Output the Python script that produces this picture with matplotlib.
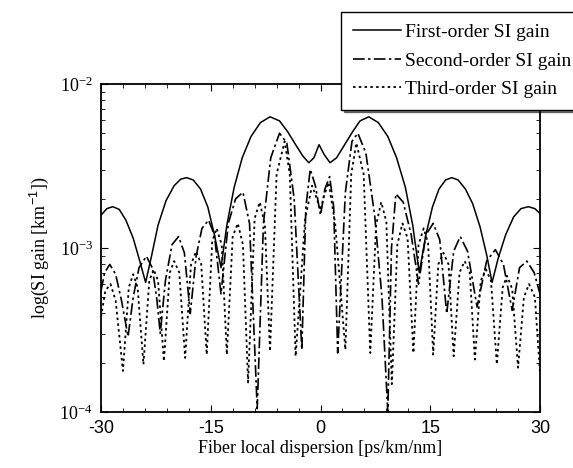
import numpy as np
import matplotlib.pyplot as plt

# values, y as log10 of SI gain [1/km]
first_x = [-30.0, -29.2, -28.4, -27.5, -26.6, -25.6, -24.7, -23.9, -23.1, -22.2,
           -21.1, -20.0, -19.1, -18.3, -17.4, -16.4, -15.4, -14.5, -13.6, -12.8,
           -11.8, -10.7, -9.5, -8.2, -6.9, -5.6, -4.5, -3.4, -2.4, -1.6,
           -0.9, -0.2, 0.5, 1.3, 2.2, 3.3, 4.4, 5.4, 6.6, 7.9,
           9.2, 10.4, 11.6, 12.6, 13.5, 14.4, 15.3, 16.2, 17.1, 17.95,
           18.8, 19.8, 20.8, 21.8, 22.7, 23.45, 24.3, 25.3, 26.4, 27.4,
           28.4, 29.3, 30.0]
first_log = [-2.80, -2.76, -2.748, -2.765, -2.83, -2.94, -3.08, -3.21, -3.05, -2.86,
             -2.71, -2.62, -2.58, -2.571, -2.585, -2.64, -2.75, -2.92, -3.12, -2.86,
             -2.63, -2.45, -2.32, -2.235, -2.20, -2.225, -2.29, -2.37, -2.44, -2.48,
             -2.45, -2.37, -2.43, -2.48, -2.45, -2.37, -2.29, -2.225, -2.20, -2.235,
             -2.32, -2.45, -2.63, -2.86, -3.15, -2.92, -2.75, -2.64, -2.585, -2.571,
             -2.585, -2.64, -2.73, -2.87, -3.04, -3.21, -3.06, -2.92, -2.81, -2.76,
             -2.748, -2.76, -2.79]

second_x = [-30.0, -29.5, -28.8, -28.0, -27.2, -26.3, -25.6, -24.8, -23.8, -23.0,
            -22.4, -21.9, -21.2, -20.3, -19.4, -18.6, -17.8, -17.0, -16.2, -15.3,
            -14.5, -13.6, -12.6, -11.6, -10.6, -9.7, -8.65, -7.8, -6.8, -5.6,
            -4.6, -3.6, -2.55, -2.0, -1.4, -0.7, 0.0, 0.6, 1.25, 1.8,
            2.35, 3.4, 4.3, 5.1, 6.2, 7.4, 8.4, 9.2, 9.7, 10.3,
            11.3, 12.4, 13.4, 14.4, 15.4, 16.3, 17.25, 18.2, 19.1, 20.1,
            21.4, 22.7, 23.9, 25.0, 26.2, 27.2, 28.2, 29.2, 30.0]
second_log = [-3.26, -3.15, -3.10, -3.16, -3.32, -3.54, -3.30, -3.12, -3.05, -3.12,
              -3.30, -3.52, -3.20, -2.98, -2.93, -3.03, -3.40, -3.05, -2.88, -2.83,
              -2.92, -3.28, -2.85, -2.70, -2.66, -2.85, -3.98, -2.85, -2.45, -2.30,
              -2.36, -2.70, -3.62, -2.75, -2.52, -2.62, -2.80, -2.64, -2.565, -2.75,
              -3.64, -2.66, -2.35, -2.30, -2.42, -2.80, -3.30, -4.00, -3.00, -2.67,
              -2.72, -2.92, -3.22, -2.92, -2.85, -2.95, -3.40, -3.02, -2.93, -3.02,
              -3.36, -3.08, -3.01, -3.10, -3.38, -3.12, -3.08, -3.15, -3.28]

third_x = [-30.0, -29.4, -28.7, -28.0, -27.0, -26.2, -25.6, -25.0, -24.2, -23.4,
           -22.8, -22.2, -21.4, -20.6, -20.0, -19.3, -18.5, -17.7, -17.0, -16.3,
           -15.55, -14.8, -14.2, -13.5, -12.8, -12.0, -11.3, -10.6, -9.9, -9.0,
           -8.3, -7.6, -6.9, -6.0, -4.9, -4.2, -3.4, -2.1, -1.15, -0.5,
           0.0, 0.5, 1.1, 2.0, 3.4, 4.2, 4.9, 5.9, 6.8, 7.6,
           8.3, 9.0, 9.75, 10.5, 11.2, 11.9, 12.7, 13.4, 14.1, 14.7,
           15.4, 16.1, 16.8, 17.5, 18.2, 19.0, 19.7, 20.4, 21.1, 21.9,
           22.6, 23.3, 24.1, 24.9, 25.5, 26.2, 27.0, 27.8, 28.5, 29.3,
           30.0]
third_log = [-3.42, -3.26, -3.22, -3.32, -3.75, -3.24, -3.16, -3.24, -3.71, -3.20,
             -3.13, -3.20, -3.69, -3.15, -3.08, -3.15, -3.67, -3.10, -3.02, -3.10,
             -3.65, -2.96, -2.88, -2.98, -3.65, -2.93, -2.85, -2.98, -3.82, -2.82,
             -2.72, -2.86, -3.63, -2.55, -2.35, -2.55, -3.66, -2.82, -2.62, -2.70,
             -2.77, -2.68, -2.60, -2.85, -3.62, -2.55, -2.36, -2.55, -3.64, -2.86,
             -2.72, -2.84, -3.83, -2.98, -2.85, -2.94, -3.64, -2.98, -2.88, -2.97,
             -3.65, -3.10, -3.03, -3.10, -3.66, -3.15, -3.08, -3.15, -3.68, -3.20,
             -3.13, -3.20, -3.71, -3.24, -3.17, -3.25, -3.73, -3.30, -3.22, -3.30,
             -3.76]

x_ticks = [-30, -15, 0, 15, 30]

plt.rcParams['font.family'] = 'Liberation Serif'
plt.rcParams['axes.unicode_minus'] = False
plt.rcParams['mathtext.fontset'] = 'custom'
plt.rcParams['mathtext.rm'] = 'Liberation Sans'
plt.rcParams['mathtext.it'] = 'Liberation Sans:italic'

fig = plt.figure(figsize=(5.73, 4.68), dpi=100)
ax = fig.add_axes([101 / 573, 56 / 468, 439 / 573, 328 / 468])

ax.semilogy(first_x, 10.0 ** np.array(first_log), color='k', lw=1.1,
            label='First-order SI gain')
ax.semilogy(second_x, 10.0 ** np.array(second_log), color='k', lw=1.2,
            dashes=(7, 2, 1.5, 2), label='Second-order SI gain')
ax.semilogy(third_x, 10.0 ** np.array(third_log), color='k', lw=1.3,
            dashes=(1.4, 1.8), label='Third-order SI gain')

ax.set_xlim(-30, 30)
ax.set_ylim(1e-4, 1e-2)
ax.set_xticks(x_ticks)
ax.set_xticks(np.arange(-30, 31, 3), minor=True)
ax.tick_params(which='both', direction='in', top=True, right=True,
               labelsize=13, pad=6)
ax.tick_params(which='major', length=5)
ax.tick_params(which='minor', length=3)
for lbl in ax.get_xticklabels():
    lbl.set_family('Liberation Sans')
for s in ax.spines.values():
    s.set_linewidth(1.3)

ax.set_xlabel('Fiber local dispersion [ps/km/nm]', fontsize=13, labelpad=2)
ax.set_ylabel('log(SI gain [km$^{-1}$])', fontsize=13, labelpad=6)

leg = ax.legend(loc='upper left', bbox_to_anchor=(341 / 573, 1 - 12 / 468),
                bbox_transform=fig.transFigure, fontsize=14, fancybox=False,
                edgecolor='k', framealpha=1, borderaxespad=0, handlelength=2.5,
                handletextpad=0.2, labelspacing=0.55, borderpad=0.6,
                shadow={'color': 'k'})
leg.get_frame().set_linewidth(1.0)

fig.savefig('out.png', dpi=100)
